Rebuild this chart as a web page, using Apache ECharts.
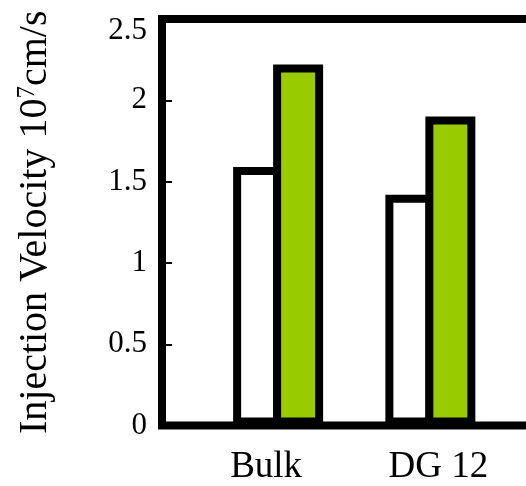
<!DOCTYPE html>
<html>
<head>
<meta charset="utf-8">
<script src="https://cdn.jsdelivr.net/npm/echarts@6/dist/echarts.min.js"></script>
<style>
  html, body { margin: 0; padding: 0; background: #fff; }
  #chart { width: 526px; height: 486px; }
</style>
</head>
<body>
<div id="chart"></div>
<script>
// Injection velocity (10^7 cm/s) per sample
const categories = ['Bulk', 'DG 12'];
const plainValues = [1.59, 1.42];
const greenValues = [2.22, 1.90];

// value axis range
const yMin = 0;
const yMax = 2.5;
const yStep = 0.5;

const FONT = "'Liberation Serif', 'Times New Roman', serif";

const chart = echarts.init(document.getElementById('chart'), null, { renderer: 'canvas' });

chart.setOption({
  animation: false,
  backgroundColor: '#fff',
  grid: [
    // frame + value axis
    { left: 162, top: 19, bottom: 60.4, width: 700, show: true, outerBoundsMode: 'none',
      borderColor: '#000', borderWidth: 8, backgroundColor: 'transparent' },
    // bar area
    { left: 202, top: 19, bottom: 60.4, right: 19.5, outerBoundsMode: 'none' }
  ],
  xAxis: [
    { gridIndex: 0, type: 'value', show: false },
    {
      gridIndex: 1,
      type: 'category',
      data: categories,
      axisLine: { show: false },
      axisTick: { show: false },
      axisLabel: {
        interval: 0,
        hideOverlap: false,
        margin: 23,
        color: '#000',
        fontFamily: FONT,
        fontSize: 37,
        formatter: (v, i) => (i === 0 ? '{l|' + v + '}' : '{r|' + v + '}'),
        rich: {
          l: { fontFamily: FONT, fontSize: 37, color: '#000', padding: [0, 24, 0, 0] },
          r: { fontFamily: FONT, fontSize: 37, color: '#000', padding: [0, 0, 0, 16] }
        }
      }
    }
  ],
  yAxis: [
    {
      gridIndex: 0,
      type: 'value',
      min: yMin,
      max: yMax,
      interval: yStep,
      splitLine: { show: false },
      axisLine: { show: false },
      axisTick: { show: true, inside: true, length: 10, lineStyle: { color: '#000', width: 2 } },
      axisLabel: {
        margin: 15,
        color: '#000',
        fontFamily: FONT,
        fontSize: 31,
        formatter: v => (v === yMax ? '{t|' + v + '}' : String(v)),
        rich: {
          t: { fontFamily: FONT, fontSize: 31, color: '#000', padding: [24, 0, 0, 0] }
        }
      },
      name: 'Injection Velocity 10{sup|7}cm/s',
      nameLocation: 'middle',
      nameRotate: 90,
      nameGap: 107,
      nameTextStyle: {
        fontFamily: FONT,
        fontSize: 40,
        color: '#000',
        rich: {
          sup: { fontFamily: FONT, fontSize: 25, color: '#000', verticalAlign: 'top', lineHeight: 40 }
        }
      }
    },
    { gridIndex: 1, type: 'value', min: yMin, max: yMax, interval: yStep, show: false }
  ],
  series: [
    {
      name: 'Set 1',
      type: 'bar',
      xAxisIndex: 1,
      yAxisIndex: 1,
      data: plainValues,
      barWidth: 48,
      barGap: '-16.7%',
      itemStyle: { color: '#ffffff', borderColor: '#000', borderWidth: 8 }
    },
    {
      name: 'Set 2',
      type: 'bar',
      xAxisIndex: 1,
      yAxisIndex: 1,
      data: greenValues,
      barWidth: 50,
      barGap: '-16.7%',
      itemStyle: { color: '#99cc00', borderColor: '#000', borderWidth: 8 }
    }
  ]
});
</script>
</body>
</html>
